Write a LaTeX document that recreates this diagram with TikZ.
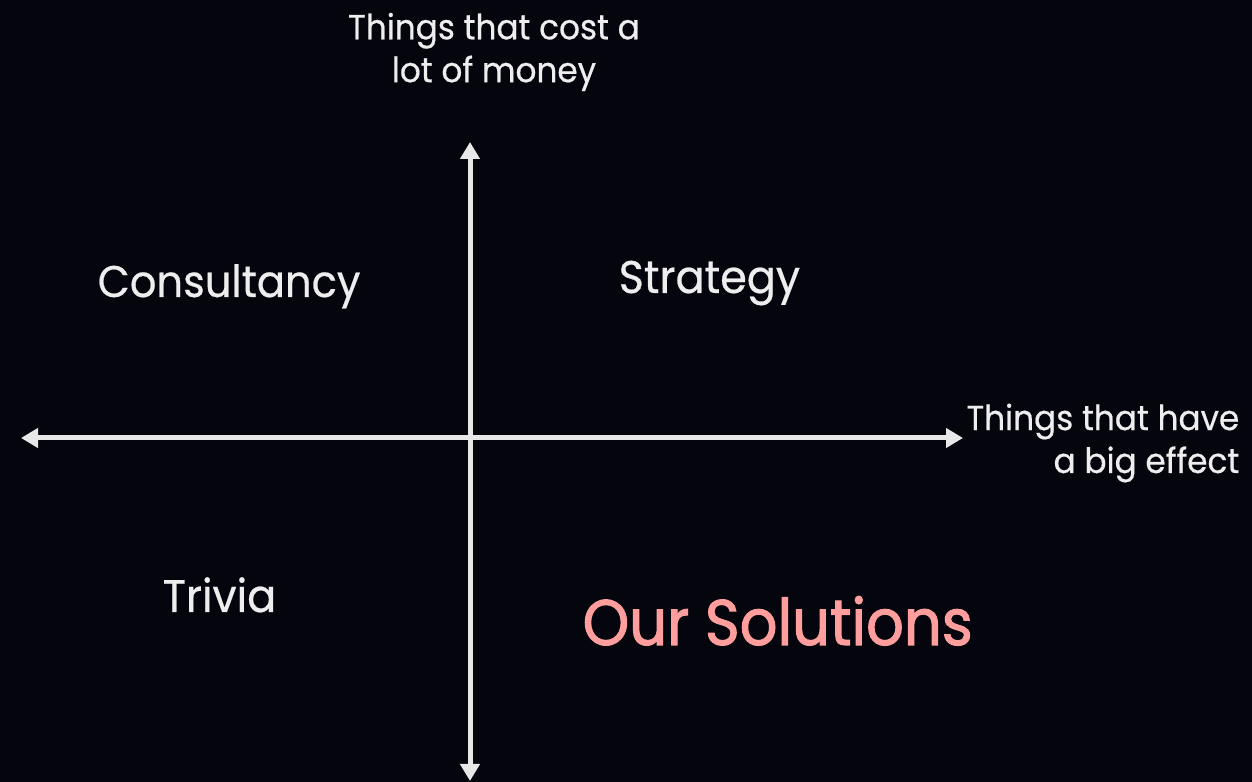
\documentclass[tikz,border=0pt]{standalone}
\usepackage{fontspec}
\setmainfont{Poppins}[FakeStretch=0.94, FakeBold=0.5]
\newfontfamily\solfont{Poppins}[FakeStretch=0.92, FakeBold=1.6]
\usepackage{xcolor}
\usetikzlibrary{arrows.meta}

\definecolor{bgdark}{HTML}{05050D}
\definecolor{axisgrey}{HTML}{E8E8E8}
\definecolor{textgrey}{HTML}{EEEEEE}
\definecolor{solpink}{HTML}{FF9E9C}

\tikzset{
  axisline/.style={line width=0.05cm, draw=axisgrey,
    {Triangle[length=0.17cm,width=0.19cm]}-{Triangle[length=0.17cm,width=0.19cm]}},
  quadlabel/.style={text=textgrey, inner sep=0pt, anchor=base west,
    font=\fontsize{13}{15}\selectfont},
  axislabel/.style={text=textgrey, inner sep=0pt,
    font=\fontsize{9.9}{12.2}\selectfont},
}

\begin{document}
\begin{tikzpicture}
  % background
  \fill[bgdark] (0,0) rectangle (12.52,7.82);
  \useasboundingbox (0,0) rectangle (12.52,7.82);

  % axes
  \coordinate (left) at (0.21,3.44);
  \coordinate (right) at (9.63,3.44);
  \coordinate (top) at (4.70,6.40);
  \coordinate (bottom) at (4.70,0.01);
  \draw[axisline] (left) -- (right);
  \draw[axisline] (bottom) -- (top);

  % axis labels
  \node[axislabel, align=center] (costlabel) at (4.94,7.30)
    {Things that cost a\\lot of money};
  \node[axislabel, align=right, anchor=east] (effectlabel) at (12.40,3.39)
    {Things that have\\a big effect};

  % quadrants
  \node[quadlabel, font=\fontsize{12.6}{15}\selectfont] (consultancy) at (0.97,4.85) {Consultancy};
  \node[quadlabel] (strategy) at (6.18,4.89) {Strategy};
  \node[quadlabel] (trivia) at (1.62,1.70) {Trivia};
  \node[quadlabel, text=solpink, font=\solfont\fontsize{18.3}{22}\selectfont]
    (solutions) at (5.82,1.37) {Our Solutions};
\end{tikzpicture}
\end{document}
